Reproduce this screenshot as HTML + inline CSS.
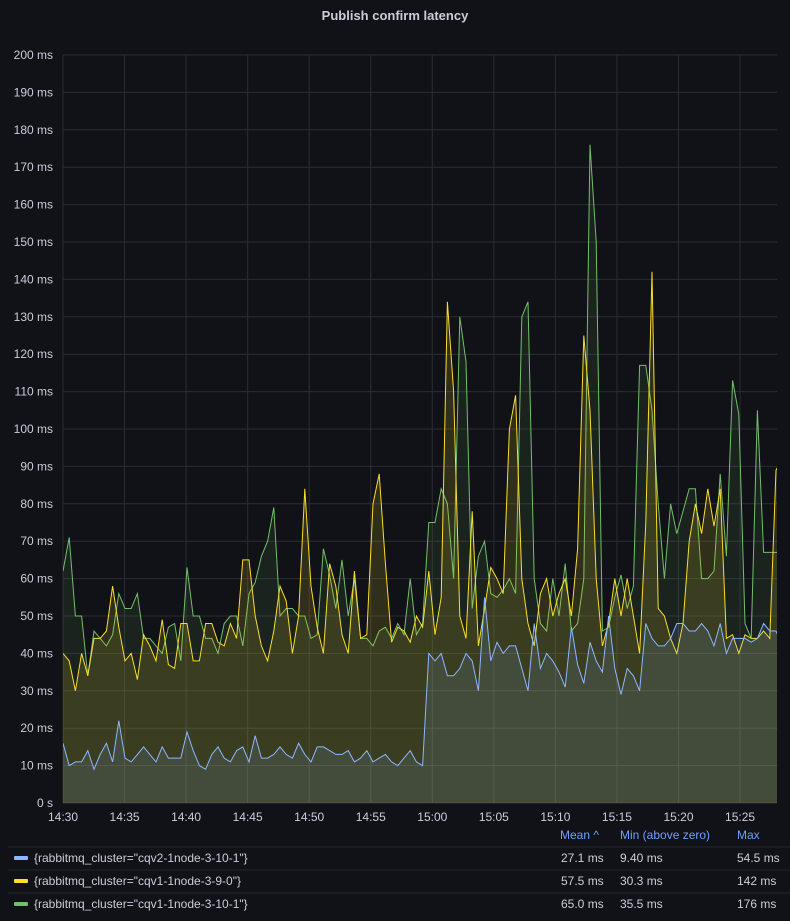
<!DOCTYPE html>
<html><head><meta charset="utf-8"><style>
body{margin:0;background:#111217;width:790px;height:916px;overflow:hidden;font-family:"Liberation Sans",sans-serif;color:#ccccdc}
svg text{font-family:"Liberation Sans",sans-serif}
</style></head><body>
<svg id="s" width="790" height="916" xmlns="http://www.w3.org/2000/svg">
<defs><clipPath id="cp"><rect x="63" y="40" width="714" height="763"/></clipPath></defs>
<rect width="790" height="916" fill="#111217"/>
<text x="395" y="20" fill="#ccccdc" font-size="13" font-weight="bold" text-anchor="middle">Publish confirm latency</text>
<g id="grid"></g>
<g id="series" clip-path="url(#cp)"></g>
<g font-size="12">
<text x="560" y="839" fill="#6e9fff">Mean ^</text>
<text x="620" y="839" fill="#6e9fff">Min (above zero)</text>
<text x="737" y="839" fill="#6e9fff">Max</text>
<line x1="8" y1="847" x2="790" y2="847" stroke="#22252b"/>
<line x1="8" y1="870" x2="790" y2="870" stroke="#22252b"/>
<line x1="8" y1="893" x2="790" y2="893" stroke="#22252b"/>
<rect x="14" y="856" width="14" height="4" rx="1" fill="#8ab8ff"/>
<rect x="14" y="879" width="14" height="4" rx="1" fill="#fade2a"/>
<rect x="14" y="902" width="14" height="4" rx="1" fill="#73bf69"/>
<text x="34" y="862" fill="#ccccdc">{rabbitmq_cluster="cqv2-1node-3-10-1"}</text>
<text x="34" y="885" fill="#ccccdc">{rabbitmq_cluster="cqv1-1node-3-9-0"}</text>
<text x="34" y="908" fill="#ccccdc">{rabbitmq_cluster="cqv1-1node-3-10-1"}</text>
<text x="561" y="862" fill="#ccccdc">27.1 ms</text><text x="620" y="862" fill="#ccccdc">9.40 ms</text><text x="737" y="862" fill="#ccccdc">54.5 ms</text>
<text x="561" y="885" fill="#ccccdc">57.5 ms</text><text x="620" y="885" fill="#ccccdc">30.3 ms</text><text x="737" y="885" fill="#ccccdc">142 ms</text>
<text x="561" y="908" fill="#ccccdc">65.0 ms</text><text x="620" y="908" fill="#ccccdc">35.5 ms</text><text x="737" y="908" fill="#ccccdc">176 ms</text>
</g>
</svg>
<script>
var NS="http://www.w3.org/2000/svg";
var X0=63,X1=777,Y0=803,PX=3.74,DX=6.2;
function y(v){return Y0-v*PX;}
var g=document.getElementById('grid'),h='';
for(var i=0;i<=20;i++){var yy=y(i*10);
 h+='<line x1="'+X0+'" x2="'+X1+'" y1="'+yy+'" y2="'+yy+'" stroke="#2a2c32"/>';
 h+='<text x="53" y="'+(yy+4)+'" fill="#ccccdc" font-size="12" text-anchor="end">'+(i==0?'0 s':(i*10)+' ms')+'</text>';}
var labs=['14:30','14:35','14:40','14:45','14:50','14:55','15:00','15:05','15:10','15:15','15:20','15:25'];
for(var k=0;k<labs.length;k++){var xx=X0+k*61.55;
 h+='<line x1="'+xx+'" x2="'+xx+'" y1="55" y2="'+Y0+'" stroke="#2a2c32"/>';
 h+='<text x="'+xx+'" y="821" fill="#ccccdc" font-size="12" text-anchor="middle">'+labs[k]+'</text>';}
g.innerHTML=h;
var blue=[16,10,11,11,14,9,13,16,11,22,12,11,13,15,13,11,15,12,12,12,19,14,10,9,13,15,12,11,14,15,11,18,12,12,13,15,13,12,16,13,11,15,15,14,13,13,14,11,12,14,11,12,13,11,10,12,14,11,10,40,38,40,34,34,36,40,38,30,55,38,43,40,42,42,36,30,48,36,40,38,35,31,47,37,32,43,38,35,50,36,29,36,34,30,48,44,42,42,44,48,48,46,46,48,46,42,48,40,44,44,44,43,44,48,46,46,42,52,52,42,44];
var yel=[40,38,30,40,34,44,44,46,58,47, 38,40,33,45,42,38,49,37,36,48, 48,38,38,48,48,43,42,48,44,65, 65,50,42,38,46,58,54,40,50,84, 58,47,40,64,58,45,40,62,44,45, 80,88,64,43,47,46,43,50,47,62, 45,55,134,110,50,44,78,42,52,63, 60,56,100,109,60,48,42,56,60,50, 56,60,50,68,125,105,60,42,48,60, 50,60,50,40,75,142,52,50,44,40, 48,70,80,72,84,74,84,44,45,40, 45,44,44,46,44,89,92];
var grn=[62,71,50,50,34,46,44,42,45,56,52,52,56,44,44,42,40,47,48,38,63,50,50,44,44,40,48,50,50,42,56,59,66,70,79,50,52,52,50,50,44,45,68,61,52,65,50,60,44,44,42,46,47,44,48,45,60,45,48,75,75,84,80,60,130,118,52,66,70,56,55,57,60,56,130,134,60,48,46,60,50,64,46,48,60,176,150,46,47,55,61,52,58,117,117,105,80,60,80,72,78,84,84,60,60,62,88,66,113,104,48,44,105,67,67,67,67];
function draw(d,c,op){var n=d.length,p='';
 for(var i=0;i<n;i++)p+=(i?'L':'M')+(X0+i*DX).toFixed(1)+' '+y(d[i]).toFixed(1);
 var xe=X0+(n-1)*DX;
 var s=document.getElementById('series');
 var a=document.createElementNS(NS,'path');a.setAttribute('d',p+'L'+xe+' '+Y0+'L'+X0+' '+Y0+'Z');a.setAttribute('fill',c);a.setAttribute('fill-opacity',op);s.appendChild(a);
 var l=document.createElementNS(NS,'path');l.setAttribute('d',p);l.setAttribute('fill','none');l.setAttribute('stroke',c);l.setAttribute('stroke-width','1');s.appendChild(l);}
draw(grn,'#73bf69',0.1);draw(yel,'#fade2a',0.14);draw(blue,'#8ab8ff',0.12);
</script>
</body></html>
